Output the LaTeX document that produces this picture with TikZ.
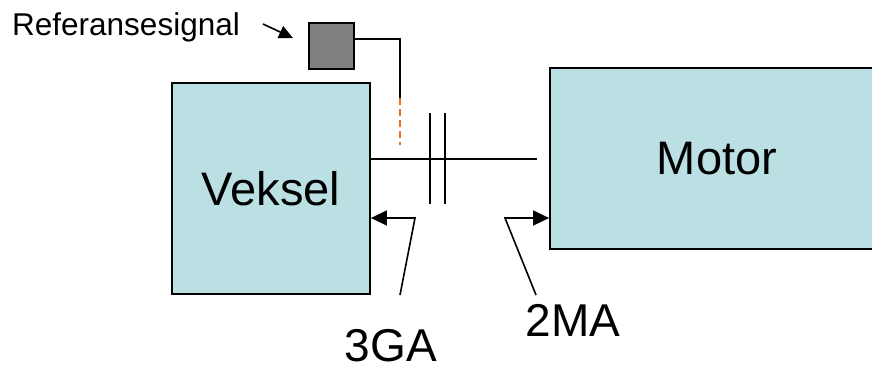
\documentclass[tikz,border=0pt]{standalone}
\usepackage{fontspec}
\setmainfont{Liberation Sans}
\usepackage{tikz}
\usetikzlibrary{arrows.meta, positioning, calc}
\definecolor{blaaBoks}{RGB}{187,224,227}
\definecolor{graaBoks}{RGB}{128,128,128}
\definecolor{oransjeSignal}{RGB}{245,110,30}
\tikzset{
  bd/blokk/.style={rectangle, draw=black, fill=blaaBoks, line width=1.8pt,
    inner sep=0pt, font=\fontsize{47}{50}\selectfont},
  bd/givar/.style={rectangle, draw=black, fill=graaBoks, line width=1.8pt,
    minimum width=45pt, minimum height=46pt, inner sep=0pt},
  bd/linje/.style={line width=1.6pt, draw=black},
  bd/pil/.style={-{Triangle[length=16pt,width=15pt]}, line width=1.6pt,
    draw=black},
  bd/lbl/.style={font=\fontsize{46}{50}\selectfont, inner sep=0pt},
  bd/lite/.style={font=\fontsize{31.5}{34}\selectfont, inner sep=0pt}
}

\begin{document}
\begin{tikzpicture}[x=1pt, y=-1pt]
    \useasboundingbox (0,0) rectangle (872,367);
    \clip (0,0) rectangle (872,367);

    % blokker
    \node[bd/blokk, minimum width=198pt, minimum height=211pt]
      (veksel) at (271,188.5) {Veksel};
    \node[bd/blokk, minimum width=334pt, minimum height=181pt]
      (motor) at (717,158.5) {Motor};
    \node[bd/givar] (givar) at (331.5,46) {};

    % tekster
    \node[bd/lite, anchor=base west] (refsig) at (12,35) {Referansesignal};
    \node[bd/lbl, anchor=base] (ga) at (391,361) {3GA};
    \node[bd/lbl, anchor=base] (ma) at (573,336) {2MA};

    % signal fra givar
    \coordinate (sigTopp) at (400,39);
    \coordinate (sigBrudd) at (400,98);
    \coordinate (sigEnde) at (400,145);
    \draw[bd/linje] (givar.east |- sigTopp) -- (sigTopp) -- (sigBrudd);
    \draw[line width=1.6pt, draw=oransjeSignal, dash pattern=on 7pt off 4pt]
      (sigBrudd) -- (sigEnde);

    % aksling med kobling
    \coordinate (akselEnde) at (537,159);
    \draw[bd/linje] (veksel.east |- akselEnde) -- (akselEnde);
    \foreach \kx in {430,445} {
      \draw[bd/linje] (\kx,113) -- (\kx,204);
    }

    % piler
    \coordinate (refStart) at (263,24);
    \draw[-{Triangle[length=14pt,width=13pt]}, line width=1.6pt]
      (refStart) -- (293,38);
    \coordinate (gaFot) at (400,295);
    \coordinate (gaKne) at (415,218);
    \draw[bd/pil] (gaFot) -- (gaKne) -- (veksel.east |- gaKne);
    \coordinate (maFot) at (536,295);
    \coordinate (maKne) at (505,218);
    \draw[bd/pil] (maFot) -- (maKne) -- (motor.west |- maKne);
  \end{tikzpicture}
\end{document}
